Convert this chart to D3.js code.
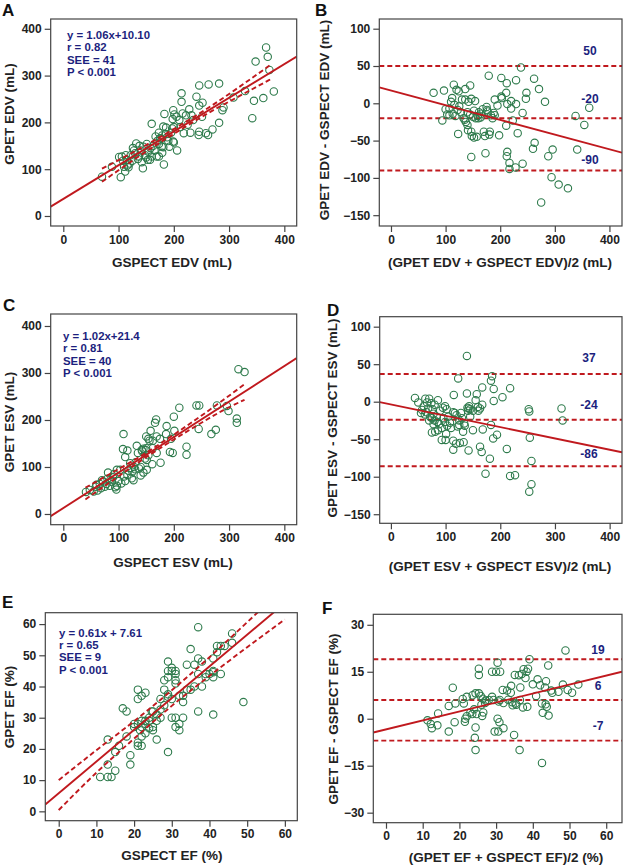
<!DOCTYPE html>
<html><head><meta charset="utf-8">
<script src="https://cdn.jsdelivr.net/npm/d3@7"></script>
<style>body{margin:0;background:#fff}svg{display:block}text{font-family:"Liberation Sans",Arial,sans-serif;font-weight:bold}</style>
</head><body><svg id="c" width="624" height="868"></svg>
<script>
// ---------------- DATA ----------------
// Panel A: GSPECT EDV (x) vs GPET EDV (y)
const aPoints = [[367,360],[370,340],[348,330],[373,312],[381,266],[362,252],[345,246],[342,209],[329,267],[308,253],[290,232],[288,226],[282,283],[282,199],[270,185],[263,281],[246,279],[241,255],[246,236],[252,242],[251,212],[246,180],[245,173],[258,177],[262,173],[214,262],[214,244],[216,219],[228,228],[199,226],[201,217],[198,207],[205,212],[218,177],[206,140],[199,159],[200,157],[197,187],[183,218],[160,197],[173,178],[179,172],[181,191],[186,189],[175,166],[167,170],[173,154],[181,147],[182,110],[179,135],[169,127],[173,127],[160,127],[157,120],[151,154],[154,137],[145,148],[144,102],[132,155],[126,145],[130,134],[137,127],[113,130],[106,127],[115,120],[110,105],[118,104],[112,95],[104,83],[88,105],[70,84],[101,126],[140,140],[148,130],[150,125],[163,150],[165,140],[190,160],[192,148],[188,168],[195,178],[210,205],[222,215],[235,205],[225,195],[212,190],[230,178],[120,112],[125,118],[135,122],[142,115],[158,145],[170,160],[178,148],[185,175],[122,130],[108,118],[116,108],[128,140],[138,150],[153,120],[200,190],[232,215],[178,165]];
const aFit = [0.72, 36.5];               // slope, intercept of drawn line
const aBandX  = [70, 120, 170, 220, 270, 320, 375];
const aBandHi = [101, 132, 165, 200, 237, 277, 323];
const aBandLo = [73, 114, 153, 190, 225, 257, 292];
const aStats = ["y = 1.06x+10.10", "r = 0.82", "SEE = 41", "P < 0.001"];

// Panel B: Bland-Altman EDV
const bPoints = [[78,14],[97,17],[94,-23],[107,-16],[103,-15],[107,-7],[112,7],[115,25],[120,18],[124,16],[113,-14],[118,-17],[122,-9],[125,-4],[123,-41],[136,19],[145,24],[136,5],[142,2],[147,6],[154,3],[137,-25],[140,-29],[135,-22],[141,-36],[147,-38],[148,-44],[152,-46],[157,-45],[147,-72],[159,-17],[161,-12],[164,-19],[170,-38],[172,-44],[173,-67],[175,-5],[176,-9],[177,-11],[179,37],[180,-42],[181,-38],[190,5],[188,-13],[190,-16],[198,-43],[202,34],[202,9],[203,7],[212,27],[211,14],[213,-1],[211,-30],[212,-71],[213,-65],[217,-80],[217,-88],[220,3],[220,-7],[223,-23],[229,31],[229,-1],[228,-86],[232,-40],[238,48],[241,-13],[241,-81],[248,14],[247,6],[262,33],[263,-53],[260,-61],[271,19],[282,2],[275,-133],[288,-71],[296,-62],[294,-99],[307,-109],[324,-114],[338,-17],[341,-62],[354,-29],[363,-6],[100,-8],[110,2],[116,-2],[128,-12],[130,5],[133,-20],[145,-15],[150,-18],[152,-10],[155,-20],[160,-20],[165,-14],[168,-8],[183,-16],[186,-20],[195,-3],[140,-12]];
const bFit = [-0.197, 17.1];
const bLimits = [50, -20, -90];
const bLimitLabels = ["50", "-20", "-90"];

// Panel C: GSPECT ESV (x) vs GPET ESV (y)
const cPoints = [[317,308],[328,302],[296,230],[299,219],[314,203],[314,194],[278,231],[276,179],[268,170],[241,231],[246,231],[245,181],[210,226],[200,207],[201,177],[187,187],[223,143],[223,126],[193,132],[198,130],[168,201],[166,194],[169,165],[158,177],[162,156],[156,156],[150,165],[154,160],[145,139],[149,136],[142,136],[169,130],[176,109],[161,106],[109,170],[108,138],[112,121],[116,135],[133,145],[151,115],[151,94],[145,88],[140,82],[131,110],[128,100],[125,90],[154,125],[148,118],[41,47],[48,51],[59,58],[62,50],[66,64],[72,69],[81,88],[97,94],[103,94],[90,78],[85,72],[78,64],[94,57],[97,60],[110,80],[116,83],[121,108],[124,76],[127,72],[68,55],[75,58],[80,75],[88,68],[92,85],[100,70],[105,65],[112,70],[118,92],[122,98],[130,95],[60,62],[55,48],[70,72],[84,60],[96,52],[140,100],[135,130],[143,133],[137,97],[150,140],[186,170],[175,160],[195,160],[162,140]];
const cFit = [0.755, 12.6];
const cBandX  = [40, 90, 140, 190, 240, 290, 328];
const cBandHi = [56, 89, 123, 161, 201, 243, 276];
const cBandLo = [31, 72, 113, 151, 187, 221, 243];
const cStats = ["y = 1.02x+21.4", "r = 0.81", "SEE = 40", "P < 0.001"];

// Panel D: Bland-Altman ESV
const dPoints = [[139,61],[123,31],[183,28],[185,34],[218,18],[167,19],[188,17],[139,11],[115,9],[157,10],[204,6],[188,1],[155,2],[44,5],[50,-1],[63,4],[70,4],[86,2],[140,-8],[143,-6],[142,-9],[145,-10],[141,-12],[159,-7],[163,-9],[167,-4],[312,-9],[314,-25],[252,-10],[253,-13],[99,-6],[95,-8],[114,-14],[117,-15],[125,-25],[134,-29],[125,-31],[135,-32],[150,-38],[168,-37],[183,-31],[194,-44],[187,-49],[99,-27],[103,-32],[101,-43],[93,-51],[100,-51],[75,-41],[81,-40],[114,-64],[114,-52],[119,-56],[126,-55],[133,-54],[142,-65],[163,-60],[166,-67],[181,-76],[173,-96],[212,-63],[218,-99],[227,-98],[254,-48],[257,-79],[257,-110],[253,-120],[57,-11],[60,-6],[65,-14],[72,-20],[75,-22],[68,-9],[78,-16],[80,-25],[84,-20],[88,-30],[90,-12],[93,-35],[80,-4],[74,-2],[62,-17],[85,-27],[96,-22],[105,-20],[108,-28],[120,-18],[130,-22],[70,-25],[78,-30],[86,-38],[55,-15],[66,-1],[76,-10],[102,-10],[110,-35],[128,-15],[150,-12],[160,-12],[145,-20],[122,-33],[132,-40]];
const dFit = [-0.151, -3.7];
const dLimits = [37, -24, -86];
const dLimitLabels = ["37", "-24", "-86"];

// Panel E: GSPECT EF (x) vs GPET EF (y)
const ePoints = [[37,59],[46,57],[46,54],[42,53],[43,53],[44,53],[42,51],[35,52],[37,49],[38,48],[41,49],[29,48],[34,47],[36,47],[41,45],[41,44.6],[43,44],[41,43],[39,44],[37,44],[29,45],[30,46],[30,45],[31,45],[31,44],[31,42],[31,41],[29,43],[28,42],[35,39],[36,40],[28,39],[29,37.5],[33,37],[27,36],[21,39],[21,36],[22,37],[23,38],[29,36.7],[17,33],[18,32],[41,31],[37,32],[30,30],[31,30],[33,30],[31,27],[32,28],[32,26],[20,28],[21,28],[22,29],[23,29],[24,26.6],[25,27],[25,26],[21.6,26],[18,24],[22,24],[23,25],[26,23],[21,22],[21,21],[22,21],[16,21],[13,23],[19,18],[29,19],[15,19],[19,15],[13,15],[15,13],[11,11],[13,11],[14,11],[49,35],[24.7,32],[25,32],[27,32.6],[26,31],[24,30],[28,34],[30,36],[32,37],[34,39],[20,27],[23,28],[27,30],[33,35],[39,43],[40,44],[38,40],[26,29],[22,27],[24,29]];
const eFit = [1.016, 5.8];
const eBandX  = [0, 10, 20, 30, 40, 50, 60];
const eBandHi = [10, 19.6, 28.9, 38.8, 49.4, 60.6, 72];
const eBandLo = [0.4, 12.4, 23.3, 33.8, 43.4, 52.6, 61.5];
const eStats = ["y = 0.61x + 7.61", "r = 0.65", "SEE = 9", "P < 0.001"];

// Panel F: Bland-Altman EF
const fPoints = [[48.9,21.8],[39.1,19],[30.4,17.9],[25.3,16],[25.3,14],[28.9,15],[30,15],[31.1,15],[37.5,15.8],[38.7,16],[38.3,15],[37,14.3],[35.1,14],[36.2,13.9],[44.2,17],[38,13],[41.3,12.6],[43.6,12],[42,10.7],[43.3,10],[48.2,10.9],[52.4,10.9],[31.8,9.2],[34.1,10.5],[36.6,10],[18.2,9.9],[34,8.3],[45.3,8.3],[47,8.6],[50.7,8.3],[49.5,9.2],[40.9,7.3],[33.3,6.1],[34.4,5.3],[35.3,4.9],[20.9,6.3],[23.6,7.5],[24.4,8.1],[25.3,8.1],[25.8,7.3],[26.4,6.4],[27.1,5.8],[28.9,7.0],[29.3,6.0],[30.7,5.5],[17.1,4.1],[18.9,4.9],[21.2,4.9],[24,3.0],[23.5,1.5],[24.7,1.5],[26.2,0.9],[26.5,2],[34.5,4.3],[35.5,4.5],[37.3,3.6],[38.5,3.8],[42.5,4.9],[43.8,3.8],[43.5,4.6],[44.3,1.0],[42.7,1.9],[14.2,1.7],[11.3,-0.5],[12.2,-1.7],[12.5,-3.0],[14,-2.1],[17.1,-4.1],[18.7,-1.1],[21.5,-1.0],[21.6,0],[22,0.8],[30.4,0],[30.9,-1.1],[29.6,-4.1],[30.6,-4.1],[32,-3.0],[24.4,-2.8],[24.2,-6.1],[24.4,-10],[34.9,-5.2],[36.4,-10],[42.5,-14.1],[27,5],[28,6],[32,5],[33,9],[22,7],[23,2],[26,4.5],[31,6],[36.5,6],[45,9],[40,11]];
const fFit = [0.286, -3.4];
const fLimits = [19, 6, -7];
const fLimitLabels = ["19", "6", "-7"];

// tick values
const volTicks = [0, 100, 200, 300, 400];
const diffVolTicks = [-150, -100, -50, 0, 50, 100];
const efTicks = [0, 10, 20, 30, 40, 50, 60];
const diffEfTicks = [-30, -15, 0, 15, 30];

// ---------------- LAYOUT ----------------
const RED = "#c0191e", GREEN = "#2e7b4c", NAVY = "#1c1f7e", INK = "#222";
const panels = [
  {letter:"A", lp:[2,16], box:[50.7,296.7,19,226], xd:[-22.8,422.4], yd:[-21.4,420.9], xt:volTicks, yt:volTicks,
   pts:aPoints, fit:aFit, band:[aBandX,aBandHi,aBandLo], stats:aStats, sp:[67,39],
   xl:"GSPECT EDV (mL)", xlp:[172,267], yl:"GPET EDV (mL)", ylp:[14,114]},
  {letter:"B", lp:[315,16], box:[379.3,622,19,226], xd:[-21.4,423], yd:[-164.5,113], xt:volTicks, yt:diffVolTicks,
   pts:bPoints, fit:bFit, lim:bLimits, limL:bLimitLabels, limOff:[-11,-15,-6], limX:590,
   xl:"(GPET EDV + GSPECT EDV)/2 (mL)", xlp:[500,267], yl:"GPET EDV - GSPECT EDV (mL)", ylp:[329,120]},
  {letter:"C", lp:[3,311], box:[50.7,296.7,314,524.7], xd:[-22.8,422.4], yd:[-22.8,425.5], xt:volTicks, yt:volTicks,
   pts:cPoints, fit:cFit, band:[cBandX,cBandHi,cBandLo], stats:cStats, sp:[63,340],
   xl:"GSPECT ESV (mL)", xlp:[173,567], yl:"GPET ESV (mL)", ylp:[14,422]},
  {letter:"D", lp:[327,316], box:[379.7,622,316.7,523.3], xd:[-20.5,422.6], yd:[-162.1,113.3], xt:volTicks, yt:diffVolTicks,
   pts:dPoints, fit:dFit, lim:dLimits, limL:dLimitLabels, limOff:[-12,-11,-8], limX:589,
   xl:"(GPET ESV + GSPECT ESV)/2 (mL)", xlp:[500,571], yl:"GPET ESV - GSPECT ESV (mL)", ylp:[337,418]},
  {letter:"E", lp:[2,608], box:[45.3,297.3,612.7,820.7], xd:[-3.56,63.3], yd:[-3.0,63.65], xt:efTicks, yt:efTicks,
   pts:ePoints, fit:eFit, band:[eBandX,eBandHi,eBandLo], stats:eStats, sp:[59,636.5],
   xl:"GSPECT EF (%)", xlp:[172,860], yl:"GPET EF (%)", ylp:[14,707]},
  {letter:"F", lp:[322,614], box:[373.3,622,614.3,822.7], xd:[-3.46,64.3], yd:[-33.2,33.35], xt:efTicks, yt:diffEfTicks,
   pts:fPoints, fit:fFit, lim:fLimits, limL:fLimitLabels, limOff:[-5,-10,-11], limX:598,
   xl:"(GPET EF + GSPECT EF)/2 (%)", xlp:[506,862], yl:"GPET EF - GSPECT EF (%)", ylp:[338,719]}
];

const svg = d3.select("#c");
svg.append("rect").attr("width",624).attr("height",868).attr("fill","#fff");

panels.forEach((p,i) => {
  const [l,r,t,b] = p.box;
  const x = d3.scaleLinear().domain(p.xd).range([l,r]);
  const y = d3.scaleLinear().domain(p.yd).range([b,t]);
  const g = svg.append("g");
  const cid = "clip"+i;
  svg.append("clipPath").attr("id",cid).append("rect").attr("x",l).attr("y",t).attr("width",r-l).attr("height",b-t);

  // axes
  const ax = g.append("g").attr("transform",`translate(0,${b})`)
    .call(d3.axisBottom(x).tickValues(p.xt).tickSize(6).tickPadding(3).tickFormat(d3.format("d")));
  const ay = g.append("g").attr("transform",`translate(${l},0)`)
    .call(d3.axisLeft(y).tickValues(p.yt).tickSize(6).tickPadding(3).tickFormat(d3.format("d")));
  [ax,ay].forEach(a => {
    a.select(".domain").remove();
    a.selectAll("line").attr("stroke","#444").attr("stroke-width",1.2);
    a.selectAll("text").attr("fill",INK).style("font-size","12px").style("font-family",'"Liberation Sans",Arial,sans-serif').style("font-weight","bold");
  });

  const plot = g.append("g").attr("clip-path",`url(#${cid})`);

  // limits of agreement
  if (p.lim) {
    plot.selectAll(".lim").data(p.lim).join("line")
      .attr("x1",l).attr("x2",r).attr("y1",d=>y(d)).attr("y2",d=>y(d))
      .attr("stroke",RED).attr("stroke-width",1.9).attr("stroke-dasharray","5,3");
  }
  // points
  plot.selectAll("circle").data(p.pts).join("circle")
    .attr("cx",d=>x(d[0])).attr("cy",d=>y(d[1])).attr("r",3.7)
    .attr("fill","none").attr("stroke",GREEN).attr("stroke-width",1.1);
  // confidence bands
  if (p.band) {
    const [bx,hi,lo] = p.band;
    [hi,lo].forEach(arr => {
      plot.append("path").datum(bx.map((v,k)=>[v,arr[k]]))
        .attr("d", d3.line().x(d=>x(d[0])).y(d=>y(d[1])).curve(d3.curveMonotoneX))
        .attr("fill","none").attr("stroke",RED).attr("stroke-width",1.9).attr("stroke-dasharray","5,3");
    });
  }
  // fit line
  const [s,c0] = p.fit;
  plot.append("path").datum(p.xd.map(v=>[v, s*v+c0]))
    .attr("d", d3.line().x(d=>x(d[0])).y(d=>y(d[1])))
    .attr("stroke",RED).attr("stroke-width",1.9).attr("fill","none");

  // box
  g.append("rect").attr("x",l).attr("y",t).attr("width",r-l).attr("height",b-t)
    .attr("fill","none").attr("stroke","#444").attr("stroke-width",1.2);

  // limit labels
  if (p.lim) {
    g.selectAll(".ll").data(p.lim).join("text")
      .attr("x",p.limX).attr("y",(d,k)=>y(d)+p.limOff[k]).attr("text-anchor","middle")
      .attr("fill",NAVY).style("font-size","12px").text((d,k)=>p.limL[k]);
  }
  // stats
  if (p.stats) {
    g.selectAll(".st").data(p.stats).join("text")
      .attr("x",p.sp[0]).attr("y",(d,k)=>p.sp[1]+k*12.4)
      .attr("fill",NAVY).style("font-size","11.4px").text(d=>d);
  }
  // panel letter
  g.append("text").attr("x",p.lp[0]).attr("y",p.lp[1]).attr("fill","#111").style("font-size","17px").text(p.letter);
  // axis titles
  g.append("text").attr("x",p.xlp[0]).attr("y",p.xlp[1]).attr("text-anchor","middle")
    .attr("fill",INK).style("font-size","13.5px").text(p.xl);
  g.append("text").attr("transform",`translate(${p.ylp[0]},${p.ylp[1]}) rotate(-90)`).attr("text-anchor","middle")
    .attr("fill",INK).style("font-size","13.5px").text(p.yl);
});
</script></body></html>
